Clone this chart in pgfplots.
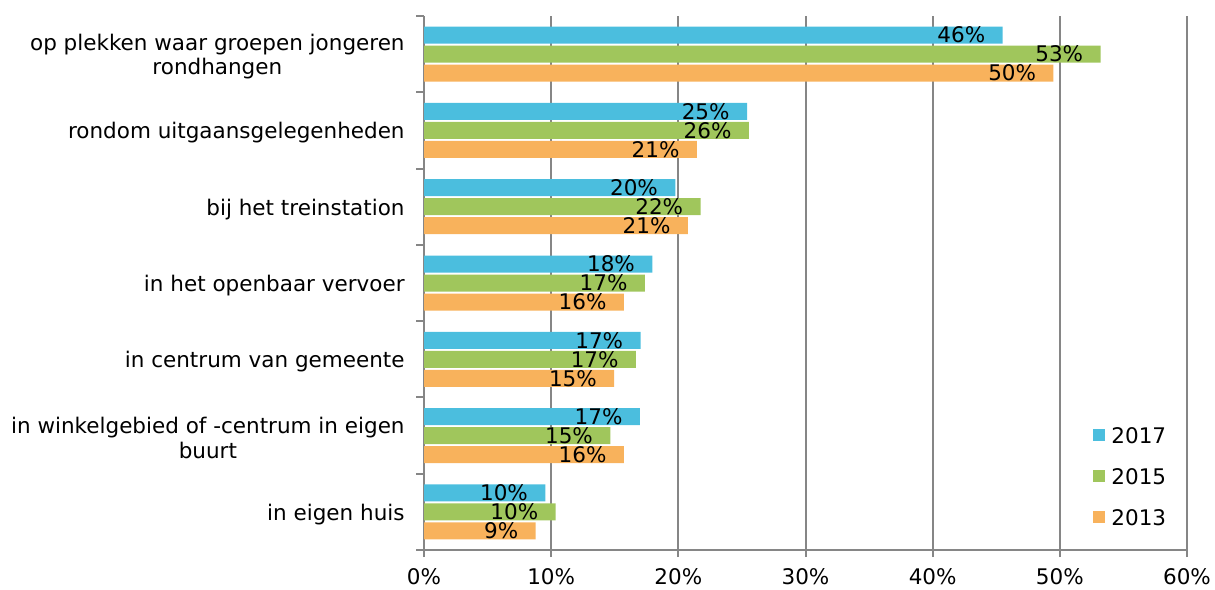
\documentclass[border=0pt]{standalone}
\usepackage{fontspec}
\setmainfont{DejaVu Sans}
\usepackage{pgfplots}
\usepackage{pgfplotstable}
\pgfplotsset{compat=1.18}
\definecolor{c17}{RGB}{75,190,222}
\definecolor{c15}{RGB}{160,198,92}
\definecolor{c13}{RGB}{248,178,92}
\definecolor{gridgray}{RGB}{134,134,134}

\pgfplotstableread{
y v l
0 9.54 10
1 16.98 17
2 17.03 17
3 17.95 18
4 19.76 20
5 25.4 25
6 45.5 46
}\dataA
\pgfplotstableread{
y v l
0 10.35 10
1 14.65 15
2 16.67 17
3 17.37 17
4 21.75 22
5 25.55 26
6 53.2 53
}\dataB
\pgfplotstableread{
y v l
0 8.78 9
1 15.72 16
2 14.96 15
3 15.72 16
4 20.75 21
5 21.46 21
6 49.5 50
}\dataC

\newcommand{\fs}{\fontsize{10.75}{12.2}\selectfont}

\begin{document}
\begin{tikzpicture}
\begin{axis}[
  scale only axis, width=381.5pt, height=267pt,
  xbar, xmin=0, xmax=60, ymin=-0.5, ymax=6.5,
  bar width=8.5pt,
  axis lines*=left,
  axis line style={gridgray, line width=1pt},
  xtick={0,10,...,60},
  xticklabels={0\%,10\%,20\%,30\%,40\%,50\%,60\%},
  xmajorgrids, grid style={gridgray, line width=1pt},
  ytick={0,...,6},
  yticklabels={in eigen huis,
    {in winkelgebied of -centrum in eigen\\buurt},
    in centrum van gemeente,
    in het openbaar vervoer,
    bij het treinstation,
    rondom uitgaansgelegenheden,
    {op plekken waar groepen jongeren\\rondhangen}},
  minor ytick={-0.5,0.5,...,6.5},
  tick align=outside, major tick length=3.5pt, minor tick length=4pt,
  major y tick style={draw=none},
  tick style={gridgray, line width=1pt},
  tick label style={font=\fs, text=black},
  yticklabel style={align=center, anchor=east, inner sep=0pt, xshift=-6pt, yshift=-1.2pt},
  xticklabel style={anchor=north, inner sep=0pt, yshift=-5.5pt},
  point meta=explicit symbolic,
  nodes near coords={\pgfplotspointmeta\%},
  nodes near coords style={anchor=east, inner sep=0pt, xshift=-8.5pt, font=\fs, text=black},
  reverse legend,
  legend cell align=left,
  legend image code/.code={\fill[#1] (0pt,-3pt) rectangle (6pt,3pt);},
  legend style={at={(0.8768,0.2296)}, anchor=north west, draw=none, fill=none,
    inner sep=0pt, row sep=12.9pt, column sep=3pt, font=\fs,
    nodes={inner sep=0pt, text height=7.6pt, text depth=0pt}},
]
\addplot[fill=c13, draw=none, bar shift=-9.5pt] table[x=v, y=y, meta=l] {\dataC};
\addplot[fill=c15, draw=none, bar shift=0pt] table[x=v, y=y, meta=l] {\dataB};
\addplot[fill=c17, draw=none, bar shift=9.5pt] table[x=v, y=y, meta=l] {\dataA};
\legend{2013,2015,2017}
\end{axis}
\pgfresetboundingbox
\path[use as bounding box] ([shift={(-212pt,-19.5pt)}]current axis.south west) rectangle ([shift={(14pt,8pt)}]current axis.north east);
\end{tikzpicture}
\end{document}
